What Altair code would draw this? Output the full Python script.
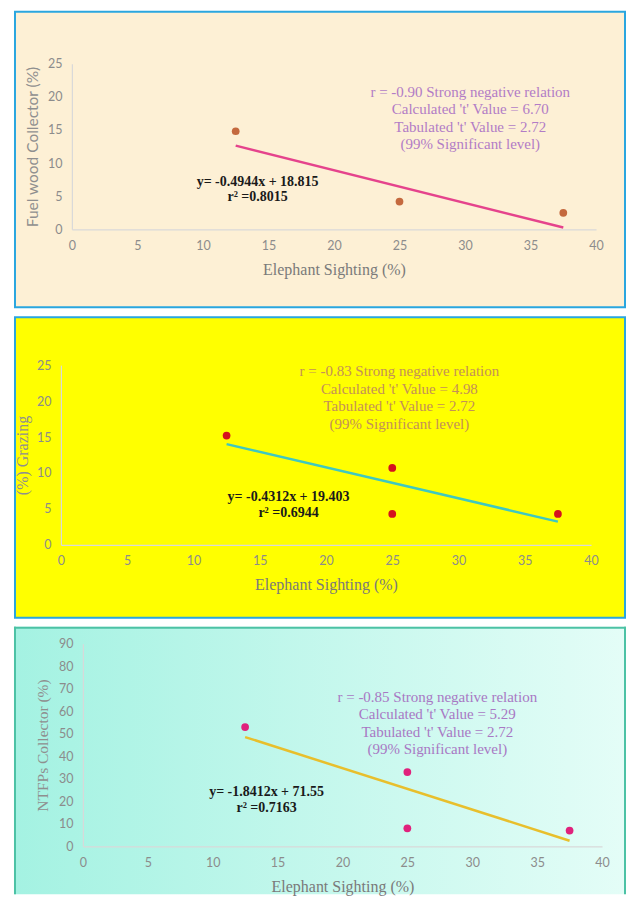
import altair as alt
import pandas as pd

# ---------------- data ----------------
X_TITLE = "Elephant Sighting (%)"
X_TICKS = [0, 5, 10, 15, 20, 25, 30, 35, 40]

FUEL_X = [12.5, 25, 37.5]
FUEL_Y = [14.8, 4.2, 2.5]
GRAZ_X = [12.5, 25, 25, 37.5]
GRAZ_Y = [15.2, 10.7, 4.3, 4.3]
NTFP_X = [12.5, 25, 25, 37.5]
NTFP_Y = [53, 33, 8, 7]

TREND_X = [12.5, 37.5]
SLOPES = [-0.4944, -0.4312, -1.8412]
INTERCEPTS = [18.815, 19.403, 71.55]

Y_TITLES = ["Fuel wood Collector (%)", "(%) Grazing", "NTFPs Collector (%)"]
Y_MAX = [25, 25, 90]
Y_STEP = [5, 5, 10]

STATS = [
    ["r = -0.90  Strong negative relation", "Calculated 't' Value = 6.70",
     "Tabulated 't' Value  = 2.72", "(99% Significant  level)"],
    ["r = -0.83  Strong negative relation", "Calculated 't' Value = 4.98",
     "Tabulated 't' Value  = 2.72", "(99% Significant  level)"],
    ["r = -0.85  Strong negative relation", "Calculated 't' Value = 5.29",
     "Tabulated 't' Value  = 2.72", "(99% Significant  level)"],
]
EQUATIONS = [
    ["y= -0.4944x + 18.815", "r² =0.8015"],
    ["y= -0.4312x + 19.403", "r² =0.6944"],
    ["y= -1.8412x + 71.55", "r² =0.7163"],
]

ONE = pd.DataFrame({"k": [0]})
VW = 613  # panel (view) width


def panel(i, xs, ys, VH, L, PW, T, PH, bg, border, point_color, line_color,
          stat_color, stat_xy, eq_xy, eq_lh, ytitle_x, ytitle_font, ytitle_size,
          open_bottom=False):
    ymax = Y_MAX[i]
    yticks = list(range(0, ymax + 1, Y_STEP[i]))
    xr = [L, L + PW]
    yr = [T + PH, T]
    xscale = alt.Scale(domain=[0, 40], nice=False, range=xr)
    yscale = alt.Scale(domain=[0, ymax], nice=False, range=yr)

    xaxis = alt.Axis(values=X_TICKS, ticks=False, grid=False, domainColor="#d9d9d9",
                     domainWidth=1.2, labelColor="#8c8c8c", labelFont="Lato",
                     labelFontSize=12.5, labelPadding=10, labelFlush=False,
                     labelOverlap=False,
                     title=X_TITLE, titleFont="Liberation Serif", titleFontSize=16,
                     titleFontWeight="normal", titleColor="#7a7a7a", titleY=40,
                     titleX=L + PW / 2, titleBaseline="middle",
                     offset=-(VH - T - PH), zindex=1)
    yaxis = alt.Axis(values=yticks, ticks=False, grid=False, domainColor="#d9d9d9",
                     domainWidth=1.2, labelColor="#8c8c8c", labelFont="Lato",
                     labelFontSize=12.5, labelPadding=10, labelFlush=False,
                     labelOverlap=False,
                     title=Y_TITLES[i], titleFont=ytitle_font, titleFontSize=ytitle_size,
                     titleFontWeight="normal", titleColor="#8f8f8f",
                     titleX=ytitle_x, titleY=T + PH / 2, titleBaseline="middle",
                     titleAlign="center", offset=-L, zindex=1)

    if open_bottom:
        bgrect = alt.Chart(ONE).mark_rect(fill=bg).encode(
            x=alt.value(0), x2=alt.value(VW), y=alt.value(0), y2=alt.value(VH))
    else:
        bgrect = alt.Chart(ONE).mark_rect(fill=bg, stroke=border, strokeWidth=2).encode(
            x=alt.value(1), x2=alt.value(VW - 1), y=alt.value(1), y2=alt.value(VH - 1))
    layers = [bgrect]
    if open_bottom:
        layers.append(alt.Chart(ONE).mark_rule(color=border, strokeWidth=2).encode(
            x=alt.value(1), y=alt.value(0), y2=alt.value(VH)))
        layers.append(alt.Chart(ONE).mark_rule(color=border, strokeWidth=2).encode(
            x=alt.value(VW - 1), y=alt.value(0), y2=alt.value(VH)))
        layers.append(alt.Chart(ONE).mark_rule(color=border, strokeWidth=2).encode(
            x=alt.value(0), x2=alt.value(VW), y=alt.value(1)))

    pts = pd.DataFrame({"x": xs, "y": ys})
    trend = pd.DataFrame({"x": TREND_X})

    line = alt.Chart(trend).transform_calculate(
        y=f"{SLOPES[i]} * datum.x + {INTERCEPTS[i]}"
    ).mark_line(color=line_color, strokeWidth=2.5).encode(
        x=alt.X("x:Q", scale=xscale, axis=xaxis),
        y=alt.Y("y:Q", scale=yscale, axis=yaxis),
    )
    points = alt.Chart(pts).mark_circle(size=60, opacity=1, color=point_color).encode(
        x=alt.X("x:Q", scale=xscale, axis=xaxis),
        y=alt.Y("y:Q", scale=yscale, axis=yaxis),
    )
    stats = alt.Chart(ONE).mark_text(
        font="Liberation Serif", fontSize=15, color=stat_color, align="center",
        baseline="middle", lineHeight=17.5
    ).encode(x=alt.value(L + stat_xy[0]), y=alt.value(T + stat_xy[1]),
             text=alt.value(STATS[i]))
    eq = alt.Chart(ONE).mark_text(
        font="Liberation Serif", fontSize=14, color="#1a1a1a", align="center",
        baseline="middle", lineHeight=eq_lh, fontWeight="bold"
    ).encode(x=alt.value(L + eq_xy[0]), y=alt.value(T + eq_xy[1]),
             text=alt.value(EQUATIONS[i]))

    layers += [line, points, stats, eq]
    return alt.layer(*layers).properties(width=VW, height=VH)


p1 = panel(0, FUEL_X, FUEL_Y, VH=298, L=58, PW=525, T=53, PH=166,
           bg="#fdf0d5", border="#2aa6df", point_color="#c4693e",
           line_color="#e5438c", stat_color="#b27cc6",
           stat_xy=(399, 28), eq_xy=(186, 119), eq_lh=15, ytitle_x=-39,
           ytitle_font="Lato", ytitle_size=15.5)
p2 = panel(1, GRAZ_X, GRAZ_Y, VH=303, L=47, PW=531, T=49, PH=180,
           bg="#ffff00", border="#2aa6df", point_color="#d4121e",
           line_color="#3fc8c0", stat_color="#c49058",
           stat_xy=(339, 6), eq_xy=(228, 132), eq_lh=16, ytitle_x=-38,
           ytitle_font="Liberation Serif", ytitle_size=16)
p3 = panel(2, NTFP_X, NTFP_Y, VH=268, L=69, PW=520, T=17, PH=203,
           bg=alt.LinearGradient(gradient="linear",
                                 stops=[alt.GradientStop(color="#a4f2e2", offset=0),
                                        alt.GradientStop(color="#e4fdf7", offset=1)],
                                 x1=0, x2=1, y1=0, y2=0),
           border="#4cc2a5", point_color="#e0217c",
           line_color="#e8bf2c", stat_color="#a878c4",
           stat_xy=(355, 53), eq_xy=(184, 149), eq_lh=16, ytitle_x=-40,
           ytitle_font="Liberation Serif", ytitle_size=15.5, open_bottom=True)

chart = alt.vconcat(p1, p2, p3, spacing=8, bounds="flush").properties(
    padding={"left": 5, "top": 2, "right": 0, "bottom": 0},
    background="white",
).configure_view(stroke=None)

chart.save("out.html", embed_options={"renderer": "svg", "actions": False})
